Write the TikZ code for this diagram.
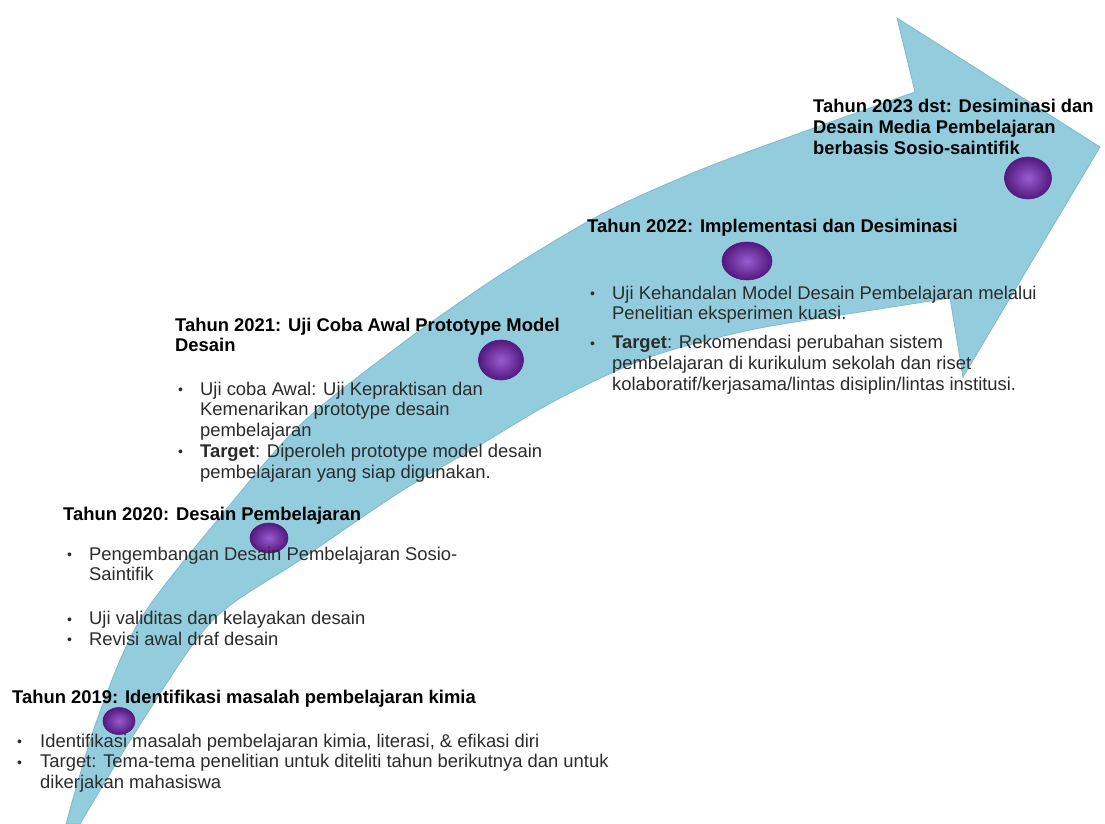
\documentclass[tikz,border=0pt]{standalone}
\usepackage{fontspec}
\setmainfont{Liberation Sans}
\definecolor{arrowblue}{HTML}{93CDDD}
\definecolor{arrowedge}{HTML}{7DBBCD}
\definecolor{plumdark}{HTML}{52197E}
\definecolor{plumlight}{HTML}{9A5CD0}
\definecolor{bodygray}{HTML}{2B2B2B}
\usetikzlibrary{positioning, shapes.geometric}
\newcommand{\bul}{\raisebox{0.5pt}{\fontsize{14}{14}\selectfont\textbullet}}

\begin{document}
\begin{tikzpicture}[x=1pt, y=-1pt,
  head/.style={font=\fontsize{18.4}{20.8}\selectfont\bfseries, text=black, inner sep=0pt, anchor=base west},
  items/.style={font=\fontsize{18.4}{20.8}\selectfont, text=bodygray, inner sep=0pt},
  stone/.style={ellipse, shading=radial, inner color=plumlight, outer color=plumdark, draw=plumdark, line width=0.6pt, inner sep=0pt}]
\path[use as bounding box, fill=white] (0,0) rectangle (1105,824);
% the rising arrow
\filldraw[fill=arrowblue, draw=arrowedge, line width=0.8pt]
  plot[smooth, tension=0.5] coordinates {(66,824) (97,720) (140,620) (220,517) (300,425) (400,345) (500,275) (600,215) (700,170) (800,133) (915,92)}
  -- (897,18) -- (1100,147) -- (963,377) -- (950,298)
  -- plot[smooth, tension=0.5] coordinates {(950,298) (860,312) (750,330) (650,357) (560,398) (480,445) (400,492) (300,560) (213,620) (143,720) (80,824)}
  -- cycle;
% milestones
\node[stone, minimum width=32pt, minimum height=27pt] (c19) at (119,721) {};
\node[stone, minimum width=38pt, minimum height=30pt] (c20) at (269,538) {};
\node[stone, minimum width=45pt, minimum height=40pt] (c21) at (501,360) {};
\node[stone, minimum width=50pt, minimum height=38pt] (c22) at (747,261) {};
\node[stone, minimum width=47pt, minimum height=42pt] (c23) at (1028,178) {};
% 2019
\node[head] (h19) at (12,703) {Tahun 2019: Identifikasi masalah pembelajaran kimia};
\node[items, below right=44pt and 5pt of h19.base west, anchor=base west] (l19) {\begin{tabular}[t]{@{}p{23pt}@{}l@{}}
\bul & Identifikasi masalah pembelajaran kimia, literasi, \& efikasi diri\\
\bul & Target: Tema-tema penelitian untuk diteliti tahun berikutnya dan untuk\\
 & dikerjakan mahasiswa
\end{tabular}};
% 2020
\node[head] (h20) at (63,520) {Tahun 2020: Desain Pembelajaran};
\node[items, below right=40pt and 4pt of h20.base west, anchor=base west] (l20) {\begin{tabular}[t]{@{}p{22pt}@{}l@{}}
\bul & Pengembangan Desain Pembelajaran Sosio-\\
 & Saintifik\\[23pt]
\bul & Uji validitas dan kelayakan desain\\
\bul & Revisi awal draf desain
\end{tabular}};
% 2021
\node[head] (h21) at (175,331) {\begin{tabular}[t]{@{}l@{}}Tahun 2021: Uji Coba Awal Prototype Model\\ Desain\end{tabular}};
\node[items, below right=64pt and 3pt of h21.base west, anchor=base west] (l21) {\begin{tabular}[t]{@{}p{22pt}@{}l@{}}
\bul & Uji coba Awal: Uji Kepraktisan dan\\
 & Kemenarikan prototype desain\\
 & pembelajaran\\
\bul & \textbf{Target}: Diperoleh prototype model desain\\
 & pembelajaran yang siap digunakan.
\end{tabular}};
% 2022
\node[head] (h22) at (587,232) {Tahun 2022: Implementasi dan Desiminasi};
\node[items, below right=67pt and 3pt of h22.base west, anchor=base west] (l22) {\begin{tabular}[t]{@{}p{22pt}@{}l@{}}
\bul & Uji Kehandalan Model Desain Pembelajaran melalui\\
 & Penelitian eksperimen kuasi.\\[8pt]
\bul & \textbf{Target}: Rekomendasi perubahan sistem\\
 & pembelajaran di kurikulum sekolah dan riset\\
 & kolaboratif/kerjasama/lintas disiplin/lintas institusi.
\end{tabular}};
% 2023
\node[head] (h23) at (813,113) {\begin{tabular}[t]{@{}l@{}}Tahun 2023 dst: Desiminasi dan\\ Desain Media Pembelajaran\\ berbasis Sosio-saintifik\end{tabular}};
\end{tikzpicture}
\end{document}
